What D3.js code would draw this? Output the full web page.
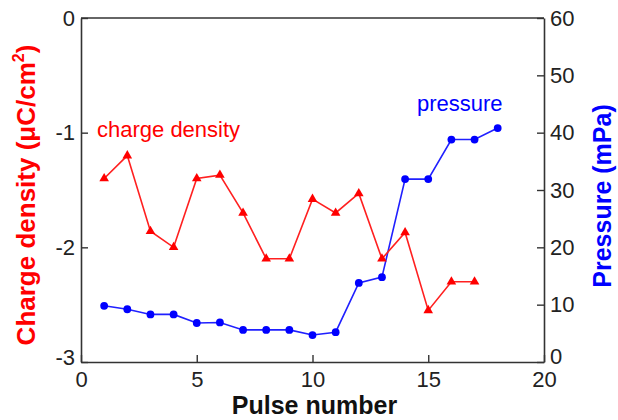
<!DOCTYPE html>
<html>
<head>
<meta charset="utf-8">
<script src="https://cdn.jsdelivr.net/npm/d3@7"></script>
<style>
  body { margin: 0; background: #fff; }
  text { font-family: "Liberation Sans", Arial, sans-serif; }
</style>
</head>
<body>
<div id="chart"></div>
<script>
// data
var pulses = [1, 2, 3, 4, 5, 6, 7, 8, 9, 10, 11, 12, 13, 14, 15, 16, 17, 18];
var charge = [-1.40, -1.20, -1.86, -2.00, -1.40, -1.37, -1.70, -2.10, -2.10, -1.58, -1.70, -1.53, -2.10, -1.87, -2.55, -2.30, -2.30];
var pressure = [9.8, 9.2, 8.3, 8.3, 6.8, 6.9, 5.6, 5.6, 5.6, 4.7, 5.2, 13.8, 14.8, 31.9, 31.9, 38.8, 38.8, 40.8];
var xTicks = [0, 5, 10, 15, 20];
var leftTicks = [0, -1, -2, -3];
var rightTicks = [0, 10, 20, 30, 40, 50, 60];

var margin = {top: 18, right: 74, bottom: 58, left: 81},
    width = 618 - margin.left - margin.right,
    height = 420 - margin.top - margin.bottom;

var svg = d3.select("#chart")
  .append("svg")
    .attr("width", 618)
    .attr("height", 420)
  .append("g")
    .attr("transform", "translate(" + margin.left + "," + margin.top + ")");

var x = d3.scaleLinear().domain([0, 20]).range([0, width]);
var yL = d3.scaleLinear().domain([-3, 0]).range([height, 0]);
var yR = d3.scaleLinear().domain([0, 60]).range([height, 0]);

var axisColor = "#333";
var fmt = function(d) { return String(d); };  // plain hyphen minus like the original

// axes, ticks pointing inward
var xAxis = svg.append("g")
  .attr("transform", "translate(0," + height + ")")
  .call(d3.axisBottom(x).tickValues(xTicks).tickFormat(fmt).tickSizeInner(-7).tickSizeOuter(0).tickPadding(9));
var lAxis = svg.append("g")
  .call(d3.axisLeft(yL).tickValues(leftTicks).tickFormat(fmt).tickSizeInner(-7).tickSizeOuter(0).tickPadding(6));
var rAxis = svg.append("g")
  .attr("transform", "translate(" + width + ",0)")
  .call(d3.axisRight(yR).tickValues(rightTicks).tickFormat(fmt).tickSizeInner(-7).tickSizeOuter(0).tickPadding(6));

[xAxis, lAxis, rAxis].forEach(function(a) {
  a.select(".domain").attr("stroke", axisColor).attr("stroke-width", 1.6);
  a.selectAll(".tick line").attr("stroke", axisColor).attr("stroke-width", 1.4);
  a.selectAll(".tick text").attr("fill", "#222").style("font-size", "22px")
    .style("font-family", "Liberation Sans, Arial, sans-serif");
});
// bottom labels of the y axes sit a bit higher, clear of the x labels
lAxis.selectAll(".tick text").filter(function(d) { return d === -3; }).attr("y", -5);
rAxis.selectAll(".tick text").filter(function(d) { return d === 0; }).attr("y", -6);

// top border
svg.append("line")
  .attr("x1", 0).attr("x2", width).attr("y1", 0).attr("y2", 0)
  .attr("stroke", axisColor).attr("stroke-width", 1.6);

// pressure series (blue)
var pData = pulses.map(function(p, i) { return {x: p, y: pressure[i]}; });
svg.append("path")
  .datum(pData)
  .attr("d", d3.line().x(function(d) { return x(d.x); }).y(function(d) { return yR(d.y); }))
  .attr("fill", "none")
  .attr("stroke", "#2020ff")
  .attr("stroke-width", 1.6);
svg.selectAll(".pdot")
  .data(pData)
  .enter()
  .append("circle")
    .attr("cx", function(d) { return x(d.x); })
    .attr("cy", function(d) { return yR(d.y); })
    .attr("r", 3.9)
    .attr("fill", "#0000ff");

// charge density series (red)
var cData = charge.map(function(c, i) { return {x: pulses[i], y: c}; });
svg.append("path")
  .datum(cData)
  .attr("d", d3.line().x(function(d) { return x(d.x); }).y(function(d) { return yL(d.y); }))
  .attr("fill", "none")
  .attr("stroke", "#ff2020")
  .attr("stroke-width", 1.6);
svg.selectAll(".cdot")
  .data(cData)
  .enter()
  .append("path")
    .attr("d", d3.symbol().type(d3.symbolTriangle).size(40))
    .attr("transform", function(d) { return "translate(" + x(d.x) + "," + yL(d.y) + ")"; })
    .attr("fill", "#ff0000");

// in-plot labels
svg.append("text")
  .attr("x", 97 - margin.left).attr("y", 137 - margin.top)
  .attr("fill", "#ff0000")
  .style("font-size", "22px")
  .text("charge density");
svg.append("text")
  .attr("x", 417 - margin.left).attr("y", 111 - margin.top)
  .attr("fill", "#0000ff")
  .style("font-size", "22px")
  .text("pressure");

// axis titles
svg.append("text")
  .attr("x", width / 2 + 2).attr("y", height + 52)
  .attr("text-anchor", "middle")
  .attr("fill", "#111")
  .style("font-size", "25px").style("font-weight", "bold")
  .text("Pulse number");

var lt = svg.append("text")
  .attr("transform", "translate(" + (-46) + "," + (height / 2 + 5) + ") rotate(-90)")
  .attr("text-anchor", "middle")
  .attr("fill", "#ff0000")
  .style("font-size", "26px").style("font-weight", "bold");
lt.append("tspan").text("Charge density (\u03BCC/cm");
lt.append("tspan").attr("dy", -11).style("font-size", "16px").text("2");
lt.append("tspan").attr("dy", 11).text(")");

svg.append("text")
  .attr("transform", "translate(" + (width + 67) + "," + (height / 2 + 6) + ") rotate(-90)")
  .attr("text-anchor", "middle")
  .attr("fill", "#0000ff")
  .style("font-size", "25px").style("font-weight", "bold")
  .text("Pressure (mPa)");
</script>
</body>
</html>
